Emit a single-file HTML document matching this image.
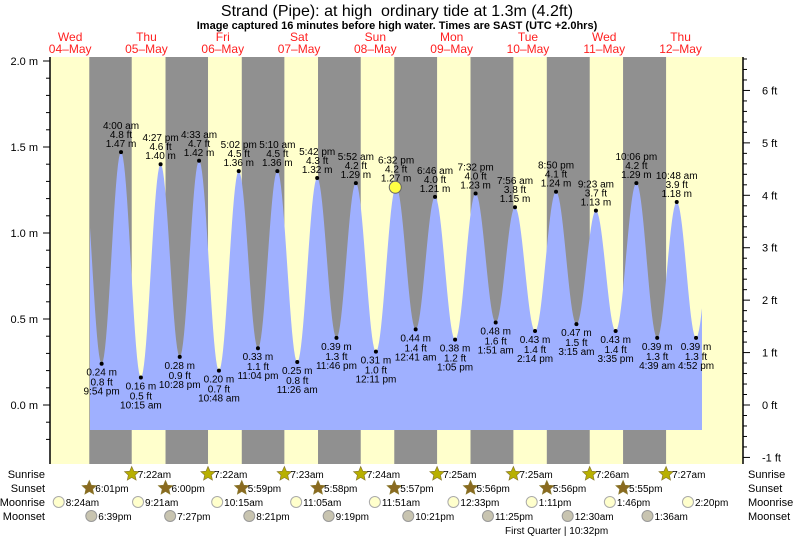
<!DOCTYPE html>
<html><head><meta charset="utf-8"><style>
html,body{margin:0;padding:0;background:#fff;}
svg{display:block;font-family:"Liberation Sans",sans-serif;}
</style></head><body>
<svg id="s" width="793" height="538" xmlns="http://www.w3.org/2000/svg"></svg>
<script>
const S=document.getElementById('s');let o='';
const X=h=>32+h*76.3/24, Y=m=>405-m*172;
const T=(x,y,t,a,sz,c,w)=>o+=`<text x="${x}" y="${y}" font-size="${sz||10}" text-anchor="${a||'middle'}" fill="${c||'#000'}"${w?' font-weight="bold"':''}>${t}</text>`;
// background
o+=`<rect x="50" y="57" width="693" height="407" fill="#ffffcc"/>`;
const ss=[18.02,17.98+24,17.98+48-0.0167*1,0,0,0,0,0];
const sunset=[[18,1],[18,0],[17,59],[17,58],[17,57],[17,56],[17,56],[17,55]];
const sunrise=[[7,22],[7,22],[7,23],[7,24],[7,25],[7,25],[7,26],[7,27]];
for(let d=0;d<8;d++){const a=X(d*24+sunset[d][0]+sunset[d][1]/60),b=X((d+1)*24+sunrise[d][0]+sunrise[d][1]/60);
o+=`<rect x="${a}" y="57" width="${b-a}" height="407" fill="#909090"/>`;}
// tide
const E=[[15.8,1.45],[21.9,.24,'9:54 pm'],[28,1.47,'4:00 am'],[34.25,.16,'10:15 am'],[40.45,1.40,'4:27 pm'],[46.47,.28,'10:28 pm'],[52.55,1.42,'4:33 am'],[58.8,.20,'10:48 am'],[65.03,1.36,'5:02 pm'],[71.07,.33,'11:04 pm'],[77.17,1.36,'5:10 am'],[83.43,.25,'11:26 am'],[89.7,1.32,'5:42 pm'],[95.77,.39,'11:46 pm'],[101.87,1.29,'5:52 am'],[108.18,.31,'12:11 pm'],[114.53,1.27,'6:32 pm'],[120.68,.44,'12:41 am'],[126.77,1.21,'6:46 am'],[133.08,.38,'1:05 pm'],[139.53,1.23,'7:32 pm'],[145.85,.48,'1:51 am'],[151.93,1.15,'7:56 am'],[158.23,.43,'2:14 pm'],[164.83,1.24,'8:50 pm'],[171.25,.47,'3:15 am'],[177.38,1.13,'9:23 am'],[183.58,.43,'3:35 pm'],[190.1,1.29,'10:06 pm'],[196.65,.39,'4:39 am'],[202.8,1.18,'10:48 am'],[208.87,.39,'4:52 pm'],[215,1.2]];
function lev(h){for(let i=0;i<E.length-1;i++){if(h>=E[i][0]&&h<=E[i+1][0]){const f=(h-E[i][0])/(E[i+1][0]-E[i][0]);return E[i][1]+(E[i+1][1]-E[i][1])*(1-Math.cos(Math.PI*f))/2;}}return 1;}
let p=`M90,430`;for(let x=90;x<=702;x+=1){p+=` L${x},${Y(lev((x-32)*24/76.3)).toFixed(1)}`;}p+=` L702,430 Z`;
o+=`<path d="${p}" fill="#9fb0ff"/>`;
for(let i=1;i<E.length-1;i++){const[h,m,t]=E[i];const x=X(h),y=Y(m);o+=`<circle cx="${x}" cy="${y}" r="2" fill="#000"/>`;
const ft=(m/0.3048).toFixed(1)+' ft',ms=m.toFixed(2)+' m';
if(m>0.8){T(x,y-23,t);T(x,y-14,ft);T(x,y-5,ms);}else{T(x,y+12,ms);T(x,y+22,ft);T(x,y+31,t);}}
o+=`<circle cx="${X(114.27)}" cy="${Y(lev(114.27))}" r="6" fill="#ffff44" stroke="#666" stroke-width="1"/>`;
// axes
o+=`<line x1="50" y1="57" x2="50" y2="464" stroke="#000" stroke-width="1.5"/><line x1="743" y1="57" x2="743" y2="464" stroke="#000" stroke-width="1.5"/>`;
for(let k=-2;k<=20;k++){const y=Y(k/10);if(y<57||y>464)continue;const maj=k%5==0;o+=`<line x1="${maj?43:46}" y1="${y}" x2="50" y2="${y}" stroke="#000"/>`;if(maj)T(38,y+4,(k/10).toFixed(1)+' m','end',11);}
for(let k=-5;k<=34;k++){const y=405-k*0.2*0.3048*172;if(y<57||y>464)continue;const maj=k%5==0;o+=`<line x1="743" y1="${y}" x2="${maj?750:747}" y2="${y}" stroke="#000"/>`;if(maj)T(762,y+4,(k/5)+' ft','start',11);}
// titles
T(397,16,'Strand (Pipe): at high&#160; ordinary tide at 1.3m (4.2ft)','middle',16);
T(397,29,'Image captured 16 minutes before high water. Times are SAST (UTC +2.0hrs)','middle',11,'#000',1);
const dn=['Wed','Thu','Fri','Sat','Sun','Mon','Tue','Wed','Thu'];
for(let d=0;d<9;d++){const x=X(d*24+12);T(x,41,dn[d],'middle',12,'#ff2020');T(x,53,String(4+d).padStart(2,'0')+'\u2013May','middle',12,'#ff2020');}
// bottom rows
[['Sunrise',478],['Sunset',492],['Moonrise',506],['Moonset',520]].forEach(([t,y])=>{T(45,y,t,'end',11);T(748,y,t,'start',11);});
function star(x,y,f){let pts='';for(let i=0;i<10;i++){const r=i%2?3.5:7.5,a=-Math.PI/2+i*Math.PI/5;pts+=(x+r*Math.cos(a)).toFixed(1)+','+(y+r*Math.sin(a)).toFixed(1)+' ';}o+=`<polygon points="${pts}" fill="${f}" stroke="#8a7a30" stroke-width="0.7"/>`;}
const fm=(hh,mm,pm)=>`${hh}:${String(mm).padStart(2,'0')}${pm}`;
for(let d=0;d<8;d++){let [hh,mm]=sunrise[d];let x=X((d+1)*24+hh+mm/60);star(x,474,'#b8b000');T(x+6,478,fm(hh,mm,'am'),'start',10);
[hh,mm]=sunset[d];x=X(d*24+hh+mm/60);star(x,488,'#8a6a20');T(x+6,492,fm(hh-12,mm,'pm'),'start',10);}
const mr=[[0,8,24,'8:24am'],[1,9,21,'9:21am'],[2,10,15,'10:15am'],[3,11,5,'11:05am'],[4,11,51,'11:51am'],[5,12,33,'12:33pm'],[6,13,11,'1:11pm'],[7,13,46,'1:46pm'],[8,14,20,'2:20pm']];
mr.forEach(([d,h,m,t])=>{const x=X(d*24+h+m/60);o+=`<circle cx="${x}" cy="502" r="5.5" fill="#ffffcc" stroke="#aaa"/>`;T(x+7,506,t,'start',10);});
const ms=[[0,18,39,'6:39pm'],[1,19,27,'7:27pm'],[2,20,21,'8:21pm'],[3,21,19,'9:19pm'],[4,22,21,'10:21pm'],[5,23,25,'11:25pm'],[7,0,30,'12:30am'],[8,1,36,'1:36am']];
ms.forEach(([d,h,m,t])=>{const x=X(d*24+h+m/60);o+=`<circle cx="${x}" cy="516" r="5.5" fill="#c8c4b0" stroke="#999"/>`;T(x+7,520,t,'start',10);});
T(505,534,'First Quarter | 10:32pm','start',10);
S.innerHTML=o;
</script>
</body></html>
